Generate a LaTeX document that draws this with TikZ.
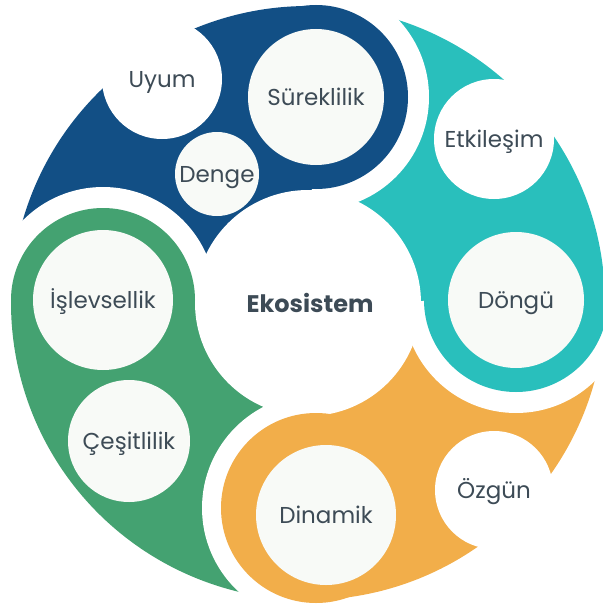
\documentclass[tikz,border=0pt]{standalone}
\usepackage{fontspec}
\setmainfont{Poppins}
\definecolor{ecoblue}{HTML}{124F85}
\definecolor{ecoteal}{HTML}{29BFBC}
\definecolor{ecoorange}{HTML}{F2AE4A}
\definecolor{ecogreen}{HTML}{44A271}
\definecolor{ecolight}{HTML}{F8FAF7}
\definecolor{ecotext}{HTML}{3D4B56}

\begin{document}
\begin{tikzpicture}[x=1pt,y=-1pt,
    lbl/.style={text=ecotext, font=\fontsize{23}{23}\selectfont, text height=16pt, text depth=0pt},
    disc/.style={circle, inner sep=0pt, minimum size=#1},
    ring/.style={disc=184, fill=#1},
    inner/.style={disc=#1, fill=ecolight, lbl},
    bite/.style={disc=#1, fill=white, lbl}]
    \useasboundingbox (0,0) rectangle (602,610);
    \coordinate (C) at (308,303);

    % petals of the big disc
    \fill[ecoblue] (C) -- ++(-88:297) arc[start angle=-88, end angle=-179, radius=297] -- cycle;
    \fill[ecoteal] (C) -- ++(-1:297) arc[start angle=-1, end angle=-88, radius=297] -- cycle;
    \fill[ecoorange] (C) -- ++(88:297) arc[start angle=88, end angle=-1, radius=297] -- cycle;
    \fill[ecogreen] (C) -- ++(88:297) arc[start angle=88, end angle=181, radius=297] -- cycle;

    % white gaps in front of each ring
    \begin{scope}
        \clip (C) -- ++(-1:300) arc[start angle=-1, end angle=-88, radius=300] -- cycle;
        \fill[white] (316,97) circle[radius=113];
    \end{scope}
    \begin{scope}
        \clip (C) -- ++(88:300) arc[start angle=88, end angle=-1, radius=300] -- cycle;
        \fill[white] (516,300) circle[radius=113];
    \end{scope}
    \begin{scope}
        \clip (C) -- ++(88:300) arc[start angle=88, end angle=181, radius=300] -- cycle;
        \fill[white] (316,508) circle[radius=114];
    \end{scope}
    \begin{scope}
        \clip (C) -- ++(-88:300) arc[start angle=-88, end angle=-179, radius=300] -- cycle;
        \fill[white] (103,300) circle[radius=113];
    \end{scope}

    % centre
    \node[disc=226, fill=white] (core) at (C) {};
    \node[lbl, font=\fontsize{24}{24}\selectfont\bfseries] (eko) at (310,304) {Ekosistem};

    % bites on the rim
    \node[bite=120] (uyum) at (162,79) {Uyum};
    \node[bite=120] (etki) at (494,139) {Etkileşim};
    \node[bite=118] (ozgun) at (494,490) {Özgün};

    % rings
    \node[ring=ecoblue] (surRing) at (316,97) {};
    \node[ring=ecoteal] (donRing) at (516,300) {};
    \node[ring=ecoorange, minimum size=190] (dinRing) at (316,508) {};
    \node[ring=ecogreen] (islRing) at (103,300) {};

    % inner circles
    \node[inner=136] (sur) at (316,97) {Süreklilik};
    \node[inner=136] (don) at (516,300) {Döngü};
    \node[inner=140] (din) at (326,515) {Dinamik};
    \node[inner=140] (isl) at (103,300) {İşlevsellik};
    \node[inner=84] (denge) at (217,174) {Denge};
    \node[inner=122] (cesit) at (129,441) {Çeşitlilik};
\end{tikzpicture}
\end{document}
